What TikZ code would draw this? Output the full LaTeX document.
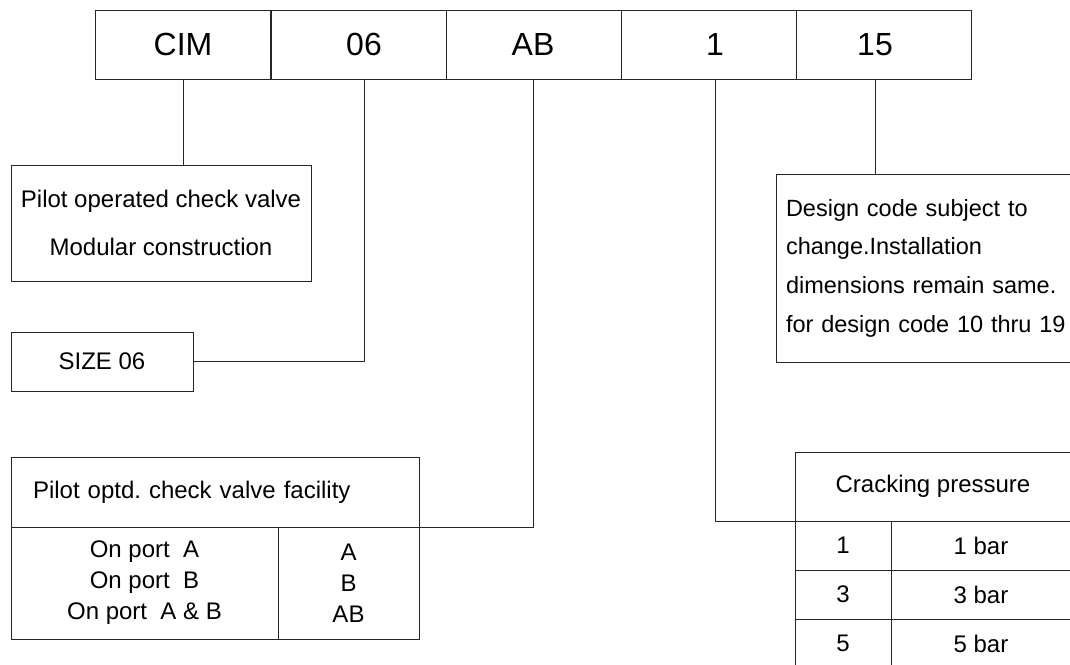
\documentclass[tikz,border=0pt]{standalone}
\usepackage{fontspec}
\setmainfont{Liberation Sans}
\usetikzlibrary{positioning}
\frenchspacing
\newcommand{\linecolor}{black!85}
\newcommand{\thickness}{0.8pt}

\begin{document}
\begin{tikzpicture}[x=1pt,y=-1pt,
  every node/.style={font=\fontsize{24}{31}\selectfont},
  frame/.style={draw=\linecolor,line width=\thickness,inner sep=0pt,outer sep=0pt,anchor=north west},
  code/.style={font=\fontsize{32}{38}\selectfont,inner sep=0pt},
  wire/.style={draw=\linecolor,line width=\thickness}]
\clip (0,0) rectangle (1070,664);
%code strip
\foreach \x/\i in {95/1,271/2,446/3,621/4,796/5}
  \node[frame,minimum width=175pt,minimum height=69pt] (cell\i) at (\x,10) {};
\node[code] (cim) at (183,44.5) {CIM};
\node[code] (sz) at (364,44.5) {06};
\node[code] (ab) at (533,44.5) {AB};
\node[code] (one) at (715,44.5) {1};
\node[code] (n15) at (875,44.5) {15};
%CIM
\node[frame,minimum width=300pt,minimum height=116pt,align=center,font=\fontsize{24}{48}\selectfont] (cimtxt) at (11,165) {Pilot operated check valve\\Modular construction};
\draw[wire] (cim |- cell1.south) -- (cim |- cimtxt.north);
%06
\node[frame,minimum width=182pt,minimum height=59pt] (sztxt) at (11,332) {SIZE 06};
\draw[wire] (sztxt.east) -- (sztxt.east -| sz) -- (sz |- cell2.south);
%AB
\node[frame,minimum width=408pt,minimum height=70pt,text width=364pt,inner xsep=22pt,align=left] (fachead) at (11,457) {Pilot optd. check valve facility};
\node[frame,minimum width=267pt,minimum height=112pt,align=center] (facdesc) at (11,527) {On port\ \ A\\On port\ \ B\\On port\ \ A \& B};
\node[frame,minimum width=141pt,minimum height=112pt,align=center] (faccode) at (278,527) {A\\B\\AB};
\draw[wire] (ab |- cell3.south) -- (ab |- fachead.south) -- (fachead.south east);
%1
\node[frame,minimum width=276pt,minimum height=69pt] (crkhead) at (795,452) {Cracking pressure};
\foreach \v [count=\i] in {1,3,5} {
  \node[frame,minimum width=96pt,minimum height=49pt] (crk\i) at (795,{521+(\i-1)*49}) {\v};
  \node[frame,minimum width=180pt,minimum height=49pt] (bar\i) at (891,{521+(\i-1)*49}) {\v\ bar};
}
\draw[wire] (one |- cell4.south) -- (one |- crkhead.south) -- (crkhead.south west);
%15
\node[frame,minimum width=300pt,minimum height=188pt,text width=290pt,inner xsep=10pt,align=left,font=\fontsize{23.5}{38.7}\selectfont] (dsgntxt) at (776,174) {Design code subject to\\change.Installation\\dimensions remain same.\\for design code 10 thru 19};
\draw[wire] (n15 |- cell5.south) -- (n15 |- dsgntxt.north);
\end{tikzpicture}
\end{document}
